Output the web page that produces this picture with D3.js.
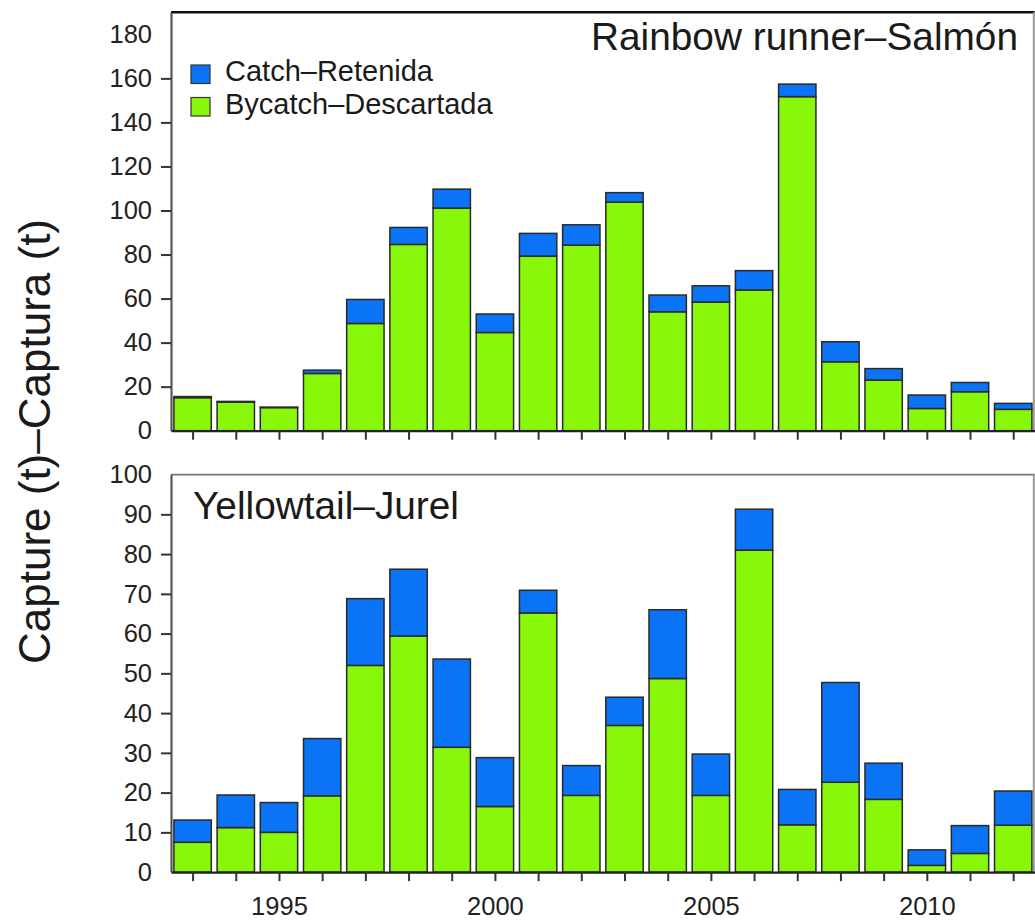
<!DOCTYPE html>
<html>
<head>
<meta charset="utf-8">
<script src="https://cdn.jsdelivr.net/npm/d3@7/dist/d3.min.js"></script>
<style>
  html, body { margin: 0; padding: 0; background: #fff; }
  svg { display: block; font-family: "Liberation Sans", Arial, sans-serif; }
</style>
</head>
<body>
<svg id="chart" width="1035" height="921"></svg>
<script>
// ---- data ----
const years = [1993,1994,1995,1996,1997,1998,1999,2000,2001,2002,2003,2004,2005,2006,2007,2008,2009,2010,2011,2012];
// Rainbow runner–Salmón
const rrBycatch = [15,13,10.5,26,48.7,84.6,101.1,44.6,79.3,84.3,103.8,54,58.4,63.9,151.7,31.3,23,10.1,17.7,9.7];
const rrCatch   = [0.5,0.3,0.2,1.5,10.9,7.7,8.6,8.4,10.3,9.2,4.3,7.6,7.4,8.8,5.7,9.1,5.2,6.1,4.2,2.7];
// Yellowtail–Jurel
const ytBycatch = [7.5,11.2,10,19.2,52,59.4,31.4,16.5,65.2,19.3,36.9,48.7,19.3,81,11.9,22.6,18.3,1.7,4.7,11.8];
const ytCatch   = [5.6,8.2,7.5,14.4,16.8,16.8,22.2,12.3,5.7,7.5,7.1,17.3,10.4,10.3,8.9,25.1,9.1,3.9,7,8.6];
const rrTicks = [0,20,40,60,80,100,120,140,160,180];
const ytTicks = [0,10,20,30,40,50,60,70,80,90,100];
const yearLabels = [1995,2000,2005,2010];
const seriesNames = ["Catch\u2013Retenida","Bycatch\u2013Descartada"];
const panelTitles = ["Rainbow runner\u2013Salm\u00f3n","Yellowtail\u2013Jurel"];
const yTitle = "Capture (t)\u2013Captura (t)";

const colCatch = "#0a73f6";
const colBycatch = "#88f70a";

const svg = d3.select("#chart");
const x = d3.scaleLinear().domain([1992.5, 2012.5]).range([171, 1034.8]);
const step = x(1994) - x(1993);
const bw = step * 0.865;

function panel(opts) {
  const { by, ca, yMax, y0, y1, ticks, title, titleX, titleY, titleAnchor, showYears, topStroke, topWidth } = opts;
  const y = d3.scaleLinear().domain([0, yMax]).range([y0, y1]);
  const g = svg.append("g");

  // top border
  g.append("line").attr("x1", x(1992.5)).attr("x2", x(2012.5))
    .attr("y1", y(yMax)).attr("y2", y(yMax))
    .attr("stroke", topStroke).attr("stroke-width", topWidth);
  // right border
  g.append("line").attr("x1", x(2012.5)-1).attr("x2", x(2012.5)-1)
    .attr("y1", y(yMax)).attr("y2", y(0))
    .attr("stroke", "#9a9a9a").attr("stroke-width", 2);

  // bars
  const data = years.map((yr, i) => ({ yr, b: by[i], c: ca[i] }));
  g.selectAll("rect.by").data(data).join("rect")
    .attr("x", d => x(d.yr) - bw/2).attr("width", bw)
    .attr("y", d => y(d.b)).attr("height", d => y(0) - y(d.b))
    .attr("fill", colBycatch).attr("stroke", "#2a2a2a").attr("stroke-width", 1.5);
  g.selectAll("rect.ca").data(data).join("rect")
    .attr("x", d => x(d.yr) - bw/2).attr("width", bw)
    .attr("y", d => y(d.b + d.c)).attr("height", d => y(d.b) - y(d.b + d.c))
    .attr("fill", colCatch).attr("stroke", "#2a2a2a").attr("stroke-width", 1.5);

  // y axis
  const ya = g.append("g").attr("transform", `translate(${x(1992.5)},0)`)
    .call(d3.axisLeft(y).tickValues(ticks).tickSize(10).tickPadding(9).tickSizeOuter(0));
  ya.select(".domain").attr("stroke", "#555").attr("stroke-width", 2.2);
  ya.selectAll(".tick line").attr("stroke", "#333").attr("stroke-width", 2)
    .filter(d => d === 0 || d === yMax || d === 180).remove();
  ya.selectAll(".tick text").attr("font-size", 25.5).attr("fill", "#222")
    .attr("font-family", "'Liberation Sans', Arial, sans-serif");

  // x axis
  const xa = g.append("g").attr("transform", `translate(0,${y(0)})`)
    .call(d3.axisBottom(x).tickValues(years).tickSize(9).tickPadding(16).tickSizeOuter(0)
      .tickFormat(d => (showYears && yearLabels.includes(d)) ? String(d) : ""));
  xa.select(".domain").attr("stroke", "#222").attr("stroke-width", 2.2);
  xa.selectAll(".tick line").attr("stroke", "#333").attr("stroke-width", 2);
  xa.selectAll(".tick text").attr("font-size", 25.5).attr("fill", "#222")
    .attr("font-family", "'Liberation Sans', Arial, sans-serif");

  // panel title
  g.append("text").attr("x", titleX).attr("y", titleY).attr("text-anchor", titleAnchor)
    .attr("font-size", 38.8).attr("fill", "#1a1a1a").text(title);
  return { g, y };
}

panel({ by: rrBycatch, ca: rrCatch, yMax: 190, y0: 430.7, y1: 12.3, ticks: rrTicks,
  title: panelTitles[0], titleX: 1018, titleY: 50, titleAnchor: "end",
  showYears: false, topStroke: "#111", topWidth: 2.5 });
panel({ by: ytBycatch, ca: ytCatch, yMax: 100, y0: 872.1, y1: 474.6, ticks: ytTicks,
  title: panelTitles[1], titleX: 193, titleY: 519, titleAnchor: "start",
  showYears: true, topStroke: "#777", topWidth: 1.8 });

// legend
const leg = svg.append("g");
const legCols = [colCatch, colBycatch];
seriesNames.forEach((name, i) => {
  const yy = 65 + i * 32.5;
  leg.append("rect").attr("x", 191).attr("y", yy).attr("width", 19).attr("height", 18.5)
    .attr("fill", legCols[i]).attr("stroke", "#333").attr("stroke-width", 1.2);
  leg.append("text").attr("x", 225).attr("y", yy + 16).attr("font-size", 29)
    .attr("fill", "#1a1a1a").text(name);
});

// y title
svg.append("text").attr("transform", "translate(50,441.5) rotate(-90)")
  .attr("text-anchor", "middle").attr("font-size", 44).attr("fill", "#1a1a1a")
  .text(yTitle);
</script>
</body>
</html>
